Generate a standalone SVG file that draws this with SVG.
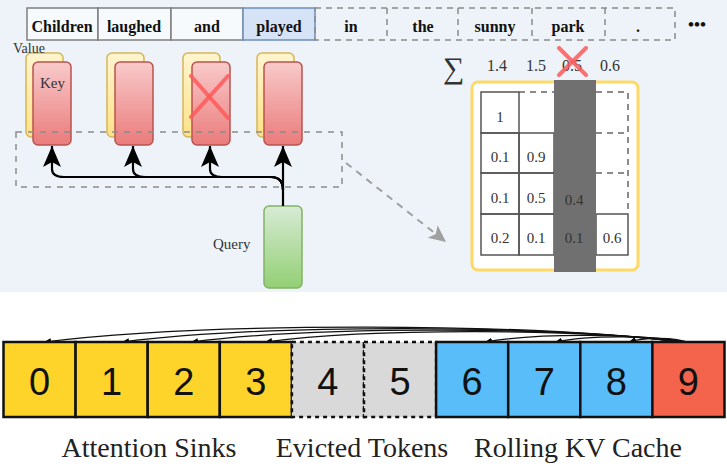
<svg xmlns="http://www.w3.org/2000/svg" width="727" height="466" viewBox="0 0 727 466">
<defs>
<linearGradient id="gKey" x1="0" y1="0" x2="0" y2="1"><stop offset="0" stop-color="#f9caca"/><stop offset="1" stop-color="#ea7b7b"/></linearGradient>
<linearGradient id="gVal" x1="0" y1="0" x2="0" y2="1"><stop offset="0" stop-color="#fff5cf"/><stop offset="1" stop-color="#ffe188"/></linearGradient>
<linearGradient id="gQ" x1="0" y1="0" x2="0" y2="1"><stop offset="0" stop-color="#d8ebd5"/><stop offset="1" stop-color="#93cf74"/></linearGradient>
<marker id="ahBig" markerUnits="userSpaceOnUse" markerWidth="24" markerHeight="22" refX="21" refY="9" orient="auto"><path d="M0,0 L21,9 L0,18 L5,9 z" fill="#000"/></marker>
<marker id="ahGray" markerUnits="userSpaceOnUse" markerWidth="20" markerHeight="20" refX="17" refY="8" orient="auto"><path d="M0,0 L17,8 L0,16 L4,8 z" fill="#a0a0a0"/></marker>
<marker id="ahSmall" markerUnits="userSpaceOnUse" markerWidth="8" markerHeight="8" refX="7" refY="3" orient="auto"><path d="M0,0 L7,3 L0,6 z" fill="#000"/></marker>
</defs>
<style>
.tok{fill:#f7fafd;stroke:#7f7f7f;stroke-width:1.5}
.tokd{fill:none;stroke:#8a8a8a;stroke-width:1.5;stroke-dasharray:6 5}
.tt{font-family:"Liberation Serif","DejaVu Serif",serif;font-weight:bold;font-size:16px;fill:#111;text-anchor:middle}
.sf{font-family:"Liberation Serif","DejaVu Serif",serif;fill:#333}
.val{fill:url(#gVal);stroke:#d6b656;stroke-width:1.5}
.key{fill:url(#gKey);stroke:#b85450;stroke-width:1.5}
.conn{fill:none;stroke:#000;stroke-width:2.2;marker-end:url(#ahBig)}
.xr{stroke:#ff5a5a;stroke-width:4;stroke-linecap:round;opacity:0.85}
.cell{fill:none;stroke:#555;stroke-width:1.5}
.celld{fill:none;stroke:#666;stroke-width:1.5;stroke-dasharray:6 5}
.mt{font-family:"Liberation Serif","DejaVu Serif",serif;font-size:15px;fill:#333;text-anchor:middle}
.bx{stroke:#111;stroke-width:2.5}
.bxd{fill:#d9d9d9;stroke:#111;stroke-width:2.5;stroke-dasharray:4 4}
.num{font-family:"Liberation Sans",Arial,sans-serif;font-size:38px;fill:#111;text-anchor:middle}
.lab{font-family:"Liberation Serif","DejaVu Serif",serif;font-size:28px;fill:#222;text-anchor:middle}
.arc{fill:none;stroke:#111;stroke-width:1.2;marker-end:url(#ahSmall)}
</style>
<rect x="0" y="0" width="727" height="292" fill="#eef3f9"/>
<rect x="0" y="292" width="727" height="174" fill="#ffffff"/>

<g id="tokens">
<rect class="tok" x="27" y="8" width="71" height="32"/>
<rect class="tok" x="98" y="8" width="73" height="32"/>
<rect class="tok" x="171" y="8" width="72" height="32"/>
<rect x="243" y="8" width="72" height="32" fill="#d6e3f6" stroke="#6c8ebf" stroke-width="1.5"/>
<rect class="tokd" x="315" y="8" width="360" height="32"/>
<line class="tokd" x1="387" y1="8" x2="387" y2="40"/>
<line class="tokd" x1="458" y1="8" x2="458" y2="40"/>
<line class="tokd" x1="532" y1="8" x2="532" y2="40"/>
<line class="tokd" x1="605" y1="8" x2="605" y2="40"/>
<text class="tt" x="62" y="32">Children</text>
<text class="tt" x="134" y="32">laughed</text>
<text class="tt" x="207" y="32">and</text>
<text class="tt" x="279" y="32">played</text>
<text class="tt" x="351" y="32">in</text>
<text class="tt" x="423" y="32">the</text>
<text class="tt" x="495" y="32">sunny</text>
<text class="tt" x="568" y="32">park</text>
<text class="tt" x="638" y="32">.</text>
<text class="tt" x="697" y="30" style="font-size:17px">•••</text>
</g>

<g id="kv1">
<rect class="val" x="26" y="53" width="37" height="84" rx="5"/>
<rect class="key" x="33" y="62" width="38" height="83" rx="5"/>
<text class="sf" x="13" y="53" font-size="14">Value</text>
<text class="sf" x="40" y="88" font-size="15">Key</text>
</g>
<g id="kv2">
<rect class="val" x="107" y="53" width="37" height="84" rx="5"/>
<rect class="key" x="115" y="62" width="38" height="83" rx="5"/>
</g>
<g id="kv3">
<rect class="val" x="183" y="53" width="37" height="84" rx="5"/>
<rect class="key" x="192" y="62" width="38" height="83" rx="5"/>
<line class="xr" x1="191" y1="76" x2="228" y2="118"/>
<line class="xr" x1="228" y1="76" x2="191" y2="117"/>
</g>
<g id="kv4">
<rect class="val" x="257" y="53" width="37" height="84" rx="5"/>
<rect class="key" x="264" y="62" width="38" height="83" rx="5"/>
</g>

<g id="query">
<rect x="264" y="206" width="38" height="82" rx="5" fill="url(#gQ)" stroke="#82b366" stroke-width="1.5"/>
<text class="sf" x="213" y="249" font-size="15">Query</text>
</g>

<g id="selection">
<rect x="16" y="132" width="326" height="55" fill="none" stroke="#8c8c8c" stroke-width="1.5" stroke-dasharray="6 6"/>
</g>

<g id="connectors">
<path class="conn" d="M283,206 L283,146"/>
<path class="conn" d="M283,190 Q283,177 271,177 L222,177 Q210,177 210,169 L210,146"/>
<path class="conn" d="M283,190 Q283,177 271,177 L145,177 Q133,177 133,169 L133,146"/>
<path class="conn" d="M283,190 Q283,177 271,177 L64,177 Q52,177 52,169 L52,146"/>
<line x1="346" y1="163" x2="446" y2="242" stroke="#a0a0a0" stroke-width="2" stroke-dasharray="7 6" marker-end="url(#ahGray)"/>
<path class="arc" d="M690,343 C529,322 205,322 44,342"/>
<path class="arc" d="M690,343 C548,324 264,324 122,342"/>
<path class="arc" d="M690,343 C565,326 316,326 191,342"/>
<path class="arc" d="M690,343 C584,328 371,328 265,342"/>
<path class="arc" d="M690,343 C639,333 536,333 485,342"/>
<path class="arc" d="M690,343 C656,335 589,335 555,342"/>
<path class="arc" d="M690,343 C675,337 644,337 629,342"/>
</g>

<g id="scores">
<text class="sf" x="443" y="78" font-size="30">∑</text>
<text class="mt" x="497" y="71" style="font-size:16px">1.4</text>
<text class="mt" x="536" y="71" style="font-size:16px">1.5</text>
<text class="mt" x="572" y="71" style="font-size:16px">0.5</text>
<text class="mt" x="610" y="71" style="font-size:16px">0.6</text>
<line class="xr" x1="559" y1="48" x2="586" y2="75"/>
<line class="xr" x1="586" y1="48" x2="559" y2="75"/>
</g>

<g id="matrix">
<rect x="472" y="82" width="166" height="188" rx="6" fill="#ffffff" stroke="#ffd966" stroke-width="3"/>
<rect class="cell" x="481" y="92" width="38" height="41"/>
<path class="celld" d="M519,92 L628,92 L628,214"/>
<path class="celld" d="M596,133 L628,133 M596,173 L628,173"/>
<rect class="cell" x="481" y="133" width="38" height="40"/>
<rect class="cell" x="519" y="133" width="35" height="40"/>
<rect class="cell" x="481" y="173" width="38" height="41"/>
<rect class="cell" x="519" y="173" width="35" height="41"/>
<rect class="cell" x="481" y="214" width="38" height="41"/>
<rect class="cell" x="519" y="214" width="35" height="41"/>
<rect class="cell" x="596" y="214" width="32" height="41"/>
<rect x="554" y="80" width="42" height="192" fill="#707070"/>
<text class="mt" x="500" y="122">1</text>
<text class="mt" x="500" y="162">0.1</text>
<text class="mt" x="536" y="162">0.9</text>
<text class="mt" x="500" y="203">0.1</text>
<text class="mt" x="536" y="203">0.5</text>
<text class="mt" x="574" y="205" fill="#2a2a2a">0.4</text>
<text class="mt" x="500" y="243">0.2</text>
<text class="mt" x="536" y="243">0.1</text>
<text class="mt" x="574" y="243" fill="#2a2a2a">0.1</text>
<text class="mt" x="612" y="243">0.6</text>
</g>

<g id="cache">
<rect class="bx" x="3.5" y="342" width="72.1" height="75" fill="#ffd42a"/>
<rect class="bx" x="75.6" y="342" width="72.1" height="75" fill="#ffd42a"/>
<rect class="bx" x="147.7" y="342" width="72.1" height="75" fill="#ffd42a"/>
<rect class="bx" x="219.8" y="342" width="72.1" height="75" fill="#ffd42a"/>
<rect class="bxd" x="291.9" y="342" width="72.1" height="75"/>
<rect class="bxd" x="364" y="342" width="72.1" height="75"/>
<rect class="bx" x="436.1" y="342" width="72.1" height="75" fill="#58bdf8"/>
<rect class="bx" x="508.2" y="342" width="72.1" height="75" fill="#58bdf8"/>
<rect class="bx" x="580.3" y="342" width="72.1" height="75" fill="#58bdf8"/>
<rect class="bx" x="652.4" y="342" width="72.1" height="75" fill="#f4634b"/>
<text class="num" x="39.5" y="395">0</text>
<text class="num" x="111.6" y="395">1</text>
<text class="num" x="183.7" y="395">2</text>
<text class="num" x="255.8" y="395">3</text>
<text class="num" x="327.9" y="395">4</text>
<text class="num" x="400" y="395">5</text>
<text class="num" x="472.1" y="395">6</text>
<text class="num" x="544.2" y="395">7</text>
<text class="num" x="616.3" y="395">8</text>
<text class="num" x="688.4" y="395">9</text>
<text class="lab" x="149" y="457">Attention Sinks</text>
<text class="lab" x="362" y="457">Evicted Tokens</text>
<text class="lab" x="578" y="457">Rolling KV Cache</text>
</g>
</svg>
